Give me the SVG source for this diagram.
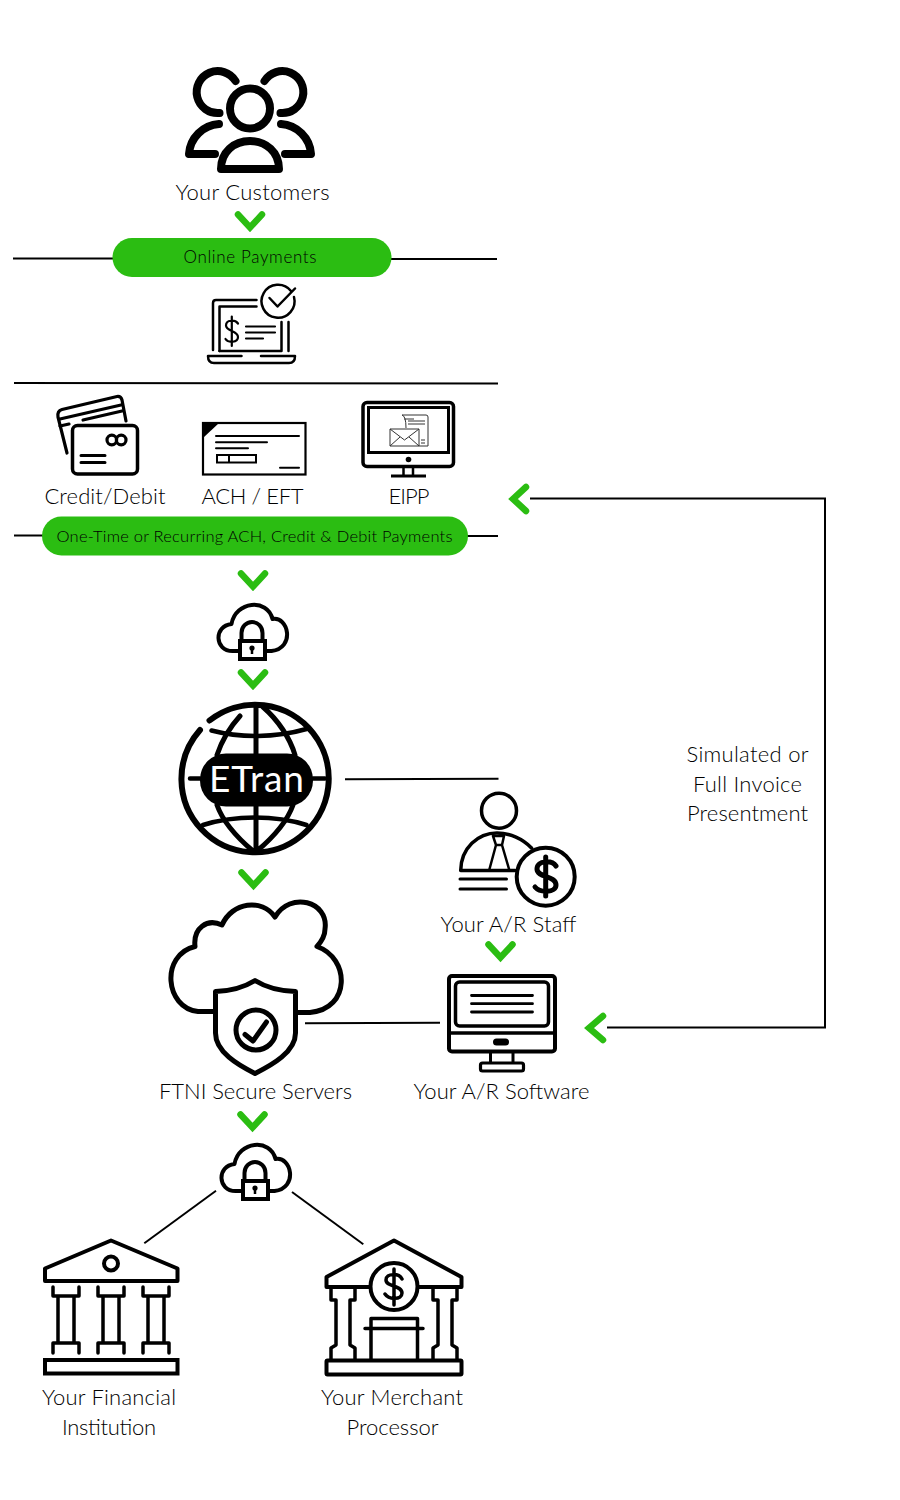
<svg xmlns="http://www.w3.org/2000/svg" width="900" height="1500" viewBox="0 0 900 1500">
<style>
.t{font-family:"Lato","Liberation Sans",sans-serif;font-weight:300;font-size:22px;fill:#000;text-anchor:middle}
.s{font-size:17px}
.i{fill:none;stroke:#000;stroke-linecap:round;stroke-linejoin:round}
.c{fill:none;stroke:#000;stroke-width:2}
.g{fill:none;stroke:#2bbd12;stroke-width:6.5;stroke-linecap:round;stroke-linejoin:miter}
.p{fill:#2bbd12}
</style>
<defs>
<path id="chev" class="g" d="M-12,-7.5 L0,5.5 L12,-7.5"/>
<g id="cloudlock">
<path class="i" stroke-width="4" d="M-12,47 H-20 C-38,47 -39,22 -21,20 C-17,-3 15,-6 20,15 C36,12 43,44 19,47 H14"/>
<path class="i" stroke-width="4" fill="none" d="M-11,37 V29 A10.500,11 0 0 1 10,29 V37"/>
<rect x="-12.500" y="37" width="25" height="18" fill="#fff" stroke="#000" stroke-width="4"/>
<circle cx="-0.500" cy="44" r="2.600" fill="#000"/><path d="M-0.500,44 V50" stroke="#000" stroke-width="2.500"/>
</g>
</defs>
<rect width="900" height="1500" fill="#fff"/>
<g id="connectors">
<path class="c" d="M13,258.500 H113"/><path class="c" d="M391,259 H497"/>
<path class="c" d="M14,383 L498,383.500"/>
<path class="c" d="M14,535.500 H43"/><path class="c" d="M467,536 H498"/>
<path class="c" d="M530,498.500 H825 V1027.500 H607"/>
<path class="c" d="M345,779.300 L498.500,778.700"/>
<path class="c" d="M305,1023.300 L440,1022.700"/>
<path class="c" d="M216,1190.700 L144.300,1243.300"/>
<path class="c" d="M292,1192 L363.300,1244.300"/>
<use href="#chev" x="250" y="222"/>
<use href="#chev" x="253" y="581"/>
<use href="#chev" x="253" y="680"/>
<use href="#chev" x="253.500" y="880"/>
<use href="#chev" x="500.500" y="952"/>
<use href="#chev" x="252.500" y="1122"/>
<path class="g" d="M526,487 L513,499 L526,511"/>
<path class="g" d="M603,1016 L589,1028 L603,1040"/>
</g>
<g id="customers">
<circle class="i" stroke-width="8" cx="250" cy="108.500" r="20"/>
<path class="i" stroke-width="8" d="M235.500,81 A21,21 0 1 0 219.500,113"/>
<path class="i" stroke-width="8" d="M264.500,81 A21,21 0 1 1 280.500,113"/>
<path class="i" stroke-width="8" d="M219,124 C203,125 190,138 189,154 H215"/>
<path class="i" stroke-width="8" d="M281,124 C297,125 310,138 311,154 H285"/>
<path class="i" stroke-width="8" d="M221,169 C221,152 234,141 250,141 C266,141 279,152 279,169 Z"/>
<text class="t" x="252.500" y="200" textLength="154">Your Customers</text>
</g>
<g id="online-payments">
<rect class="p" x="112.500" y="238" width="279" height="39" rx="19.500"/>
<text class="t s" x="250" y="263" textLength="133">Online Payments</text>
</g>
<g id="laptop">
<path class="i" stroke-width="2.500" d="M213,350 V303 Q213,300 216,300 H256.500"/>
<path class="i" stroke-width="2.500" d="M219.500,351 H281.500 V322"/>
<path class="i" stroke-width="2.500" d="M219.500,351 V306.500 H256.500"/>
<path class="i" stroke-width="2.500" d="M288.500,322 V351"/>
<path class="i" stroke-width="2.500" d="M241.500,356 H208 Q208,363 214,363 H289 Q295,363 295,356 H261"/>
<path class="i" stroke-width="2.500" d="M291,291 A16.500,16.500 0 1 0 294,297"/>
<path class="i" stroke-width="2.500" d="M269.500,298 L277.500,306.500 L295,288.500"/>
<path class="i" stroke-width="2.200" d="M238,323.500 C235,319.500 226,319.500 226,325.500 C226,331.500 238,330.500 238,337 C238,343 228,343 225.500,339 M231.800,316.500 V346"/>
<path class="i" stroke-width="2.200" d="M246,326.500 H275 M246,332.500 H275 M246,338.500 H263"/>
</g>
<g id="credit-debit">
<path class="i" stroke-width="3.200" d="M67,453 L58,417 Q57,411 62,409.500 L117,396.500 Q121,396 122,400 L126,421"/>
<path class="i" stroke-width="3.200" d="M60,419 L121,405 M83,420 L122,411 M60,426 L69,424"/>
<rect class="i" stroke-width="3.500" x="72.500" y="425.500" width="65" height="48.500" rx="5"/>
<circle class="i" stroke-width="3.200" cx="111.800" cy="440" r="4.800"/>
<circle class="i" stroke-width="3.200" cx="121.200" cy="440" r="4.800"/>
<path class="i" stroke-width="3" d="M81,455.500 H105 M81,462.500 H105"/>
<text class="t" x="105" y="504" textLength="121">Credit/Debit</text>
</g>
<g id="ach-eft">
<rect x="203" y="423" width="102.500" height="51.500" fill="none" stroke="#000" stroke-width="2.200"/>
<path d="M203,423 H219 L203,438 Z" fill="#000"/>
<path class="i" stroke-width="2" d="M216,436 H299 M216,442.300 H267 M216,448.300 H248 M280,467.700 H299"/>
<rect x="217" y="455" width="39" height="7.500" fill="none" stroke="#000" stroke-width="2"/>
<path stroke="#000" stroke-width="2" d="M229,455 V462.500"/>
<text class="t" x="252.500" y="504" textLength="102">ACH / EFT</text>
</g>
<g id="eipp">
<rect x="363" y="402.500" width="90.500" height="64" rx="4" fill="none" stroke="#000" stroke-width="3.500"/>
<rect x="368.500" y="407.500" width="80" height="45" fill="none" stroke="#000" stroke-width="3"/>
<circle cx="408.500" cy="459.500" r="2.800" fill="#000"/>
<path stroke="#000" stroke-width="2.500" fill="none" d="M403.500,467 V475 M413,467 V475"/>
<path stroke="#000" stroke-width="3" d="M391,476 H426"/>
<path fill="none" stroke="#333" stroke-width="1" d="M402,415 H426 Q428,415 428,417 V446 H419 M402,415 Q406,416 406,428 M408,421 H425 M408,424 H425 M421,440 H425 M421,443 H425 M404,419 H414"/>
<path fill="#fff" stroke="#333" stroke-width="1" d="M390,429 H419 V446 H390 Z M390,429 L404.500,440 L419,429 M390,446 L400,437 M419,446 L409,437"/>
<text class="t" x="409" y="504" textLength="41">EIPP</text>
</g>
<g id="one-time">
<rect class="p" x="42" y="516.500" width="426" height="39" rx="19.500"/>
<text class="t" font-size="16" style="font-size:16.500px" x="254.500" y="541.500" textLength="396">One-Time or Recurring ACH, Credit &amp; Debit Payments</text>
</g>
<g id="cloud-lock-1"><use href="#cloudlock" x="252.500" y="604"/></g>
<g id="etran">
<path class="i" stroke-width="6" d="M209.500,720.500 A73.500,73.500 0 0 1 300.500,836.500 A73.500,73.500 0 0 1 200,730"/>
<path class="i" stroke-width="5" d="M256,705 V852 M240,716 C230,727 222,740 217,755 M263,707 C278,720 290,738 295,755 M217,805 C224,825 240,840 253,851 M293,805 C286,825 270,840 257,851"/>
<path class="i" stroke-width="4.500" d="M211.500,730.500 C240,738 275,738 306.500,729 M203,825 C235,815 275,815 306.500,825 M190,778.500 H200 M313,778.500 H325"/>
<rect x="200" y="753.500" width="113" height="53" rx="26" fill="#000"/>
<text x="256.500" y="792" font-family="Lato,'Liberation Sans',sans-serif" font-size="37" fill="#fff" text-anchor="middle" textLength="95">ETran</text>
</g>
<g id="ar-staff">
<circle class="i" stroke-width="3.500" cx="499" cy="810.700" r="17.500"/>
<path class="i" stroke-width="3.500" d="M460.700,870.500 C461,848 478,833 497,833 C510,833 523,839 531.500,848 M460.700,870.500 H515"/>
<path class="i" stroke-width="2.500" d="M493,836 H504 L502,845 H496 Z M496,845 L489.500,869 M502,845 L509,869"/>
<path class="i" stroke-width="3" d="M460,879 H506.500 M460,889 H506.500"/>
<circle cx="545.700" cy="876.700" r="29" fill="#fff" stroke="#000" stroke-width="4"/>
<path class="i" stroke-width="5" d="M556,866 C552,860 537,860 537,869 C537,878 556,875 556,885 C556,893 540,893 535,887 M545.700,857 V896"/>
<text class="t" x="508.500" y="931.500" textLength="136">Your A/R Staff</text>
</g>
<g id="ftni-servers">
<path class="i" stroke-width="5" d="M215,1011.500 H198 C165,1008 160,955 195,946.500 C193,928 207,918 222,925 C232,902 262,898 275,917 C290,891 329,901 325,929 C325,936 321,942 317,946.500 C350,958 351,1009 310,1012.500 H296"/>
<path class="i" stroke-width="5" d="M255,980.500 C243,988 230,991 215.500,991.500 V1033 C215.500,1052 238,1065 255,1073.500 C272,1065 295.500,1052 295.500,1033 V991.500 C280,991 267,988 255,980.500 Z" fill="#fff"/>
<circle class="i" stroke-width="5" cx="256" cy="1030" r="20"/>
<path class="i" stroke-width="5" d="M245,1034.500 L253,1041 L266.500,1022"/>
<text class="t" x="255.500" y="1099" textLength="193">FTNI Secure Servers</text>
</g>
<g id="ar-software">
<rect x="449" y="976" width="106" height="75.500" rx="3" fill="none" stroke="#000" stroke-width="4"/>
<rect x="455.500" y="982" width="93" height="44" rx="4" fill="none" stroke="#000" stroke-width="3.500"/>
<path class="i" stroke-width="2.800" d="M471.500,995.500 H532.500 M471.500,1003.700 H532.500 M471.500,1012 H532.500"/>
<path stroke="#000" stroke-width="3.500" d="M449,1033 H555"/>
<rect x="493" y="1038.500" width="16" height="7" rx="3.500" fill="#000"/>
<path stroke="#000" stroke-width="3" fill="none" d="M490.500,1052 V1063 M513,1052 V1063"/>
<rect x="480.500" y="1063" width="43" height="8" rx="2" fill="none" stroke="#000" stroke-width="3.200"/>
<text class="t" x="501.500" y="1099" textLength="176">Your A/R Software</text>
</g>
<g id="presentment-label">
<text class="t" x="747.500" y="762" textLength="122">Simulated or</text>
<text class="t" x="747.500" y="792" textLength="109">Full Invoice</text>
<text class="t" x="747.500" y="821" textLength="121">Presentment</text>
</g>
<g id="cloud-lock-2"><use href="#cloudlock" x="255.500" y="1144"/></g>
<g id="financial-institution">
<path class="i" stroke-width="4" d="M111,1240.500 L45,1268.500 V1281 H177.500 V1268.500 Z"/>
<circle class="i" stroke-width="4" cx="111" cy="1263.500" r="7"/>
<path class="i" stroke-width="3.500" d="M53,1287 V1296 H79 V1287 M58,1296 V1342 M74,1296 V1342 M53,1353 V1343 H79 V1353"/>
<path class="i" stroke-width="3.500" d="M98,1287 V1296 H124 V1287 M103,1296 V1342 M119,1296 V1342 M98,1353 V1343 H124 V1353"/>
<path class="i" stroke-width="3.500" d="M143,1287 V1296 H169 V1287 M148,1296 V1342 M164,1296 V1342 M143,1353 V1343 H169 V1353"/>
<rect x="45" y="1360" width="132.500" height="13.500" fill="none" stroke="#000" stroke-width="4"/>
<text class="t" x="109" y="1405" textLength="134">Your Financial</text>
<text class="t" x="109" y="1435" textLength="94">Institution</text>
</g>
<g id="merchant-processor">
<path class="i" stroke-width="4" d="M394,1240.500 L326.500,1277 V1287 H461.500 V1277 Z"/>
<path class="i" stroke-width="3.500" d="M331,1288 V1300 H336 V1345 L331,1348 V1360 M355,1288 V1300 H350 V1345 L355,1348 V1360"/>
<path class="i" stroke-width="3.500" d="M457,1288 V1300 H452 V1345 L457,1348 V1360 M433,1288 V1300 H438 V1345 L433,1348 V1360"/>
<circle cx="394" cy="1286.500" r="23.500" fill="#fff" stroke="#000" stroke-width="4"/>
<path class="i" stroke-width="3.500" d="M402,1279 C399,1273 386,1273 386,1280 C386,1287 402,1285 402,1293 C402,1300 389,1300 385,1294 M394,1269 V1305"/>
<path class="i" stroke-width="3.500" d="M371,1360 V1318.500 H417.500 V1360 M365,1328.500 H423"/>
<rect x="326.500" y="1360.500" width="135" height="14" rx="1" fill="none" stroke="#000" stroke-width="4"/>
<text class="t" x="392" y="1405" textLength="142">Your Merchant</text>
<text class="t" x="392.500" y="1435" textLength="92">Processor</text>
</g>
</svg>
